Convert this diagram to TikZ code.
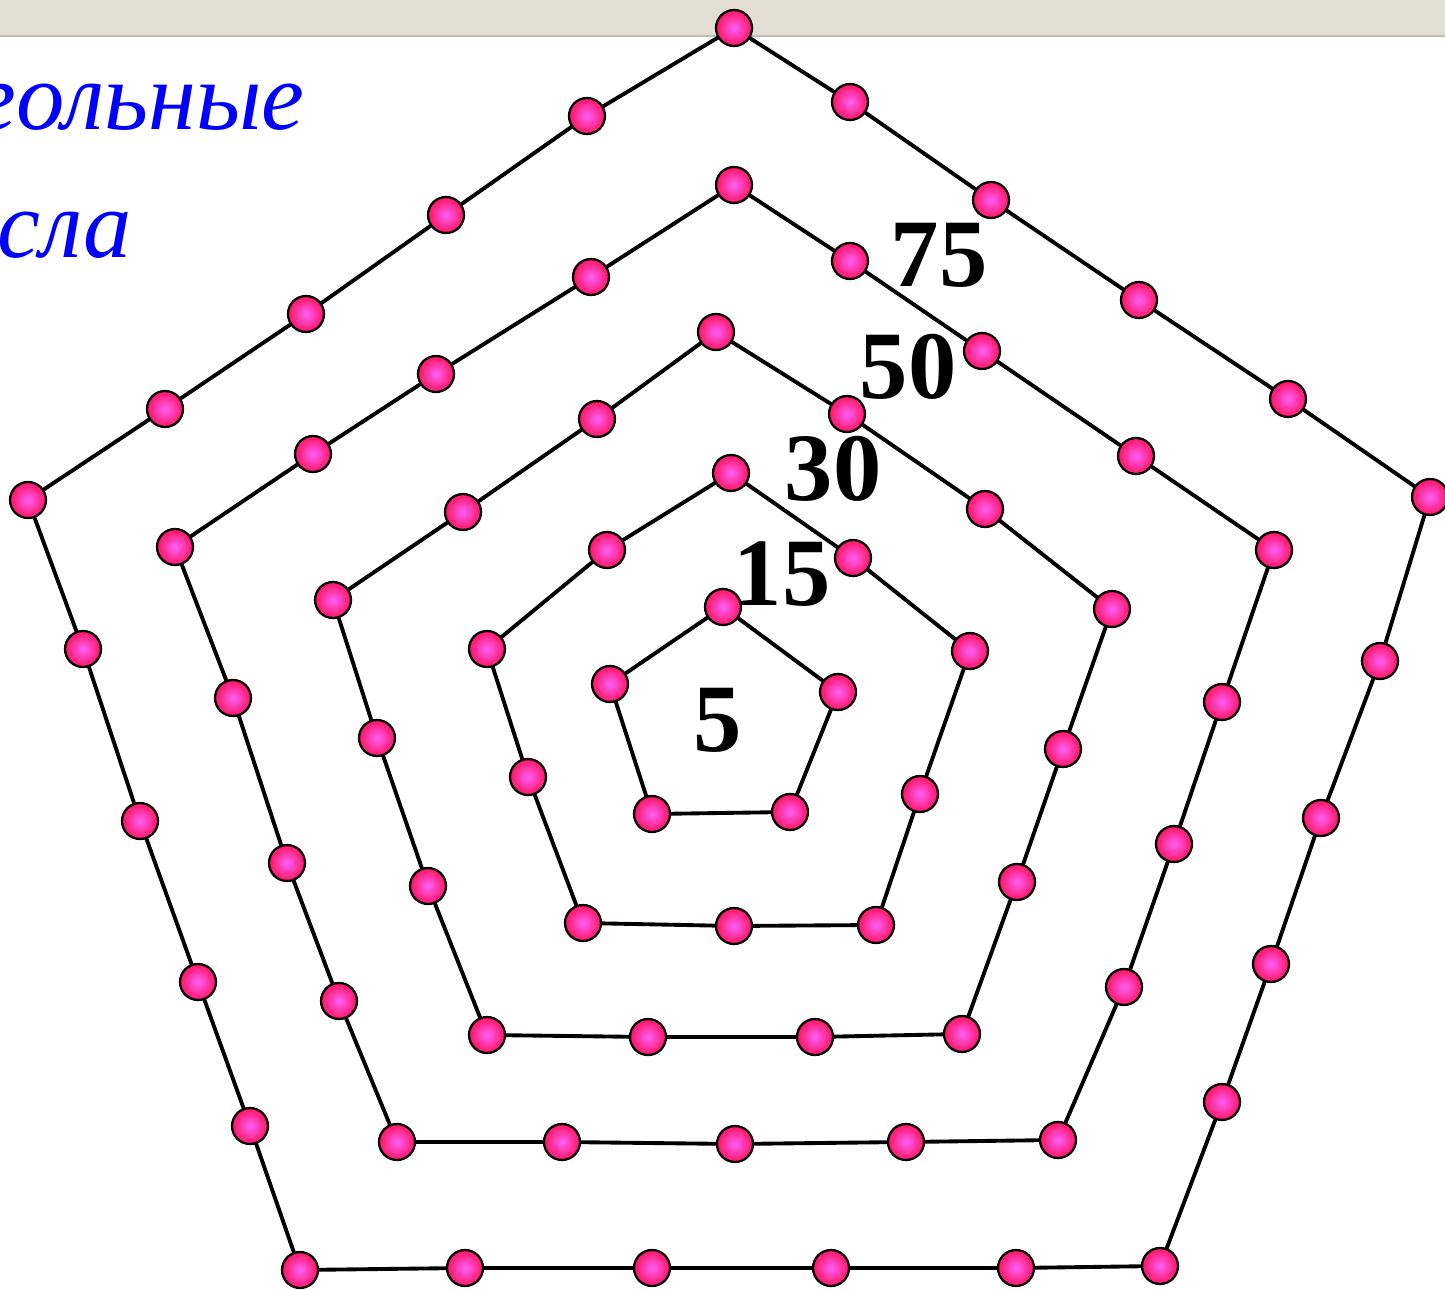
\documentclass[tikz,border=0pt]{standalone}
\usepackage{fontspec}
\setmainfont{Liberation Serif}
\definecolor{dotin}{RGB}{255,95,250}
\definecolor{dotout}{RGB}{255,20,95}
\definecolor{band}{RGB}{227,222,211}
\definecolor{bandline}{RGB}{190,186,180}
\definecolor{titleblue}{RGB}{0,0,255}
\pgfdeclarelayer{edges}
\pgfsetlayers{edges,main}
\newcommand\dt[3]{\node[dotnode] (#1) at (#2,#3) {};}
\tikzset{
  dotnode/.style={circle, draw=black, line width=1.3pt, minimum size=0.72cm, inner sep=0pt, inner color=dotin, outer color=dotout},
  edge/.style={line width=2.2pt, black},
  num/.style={font=\fontsize{55}{55}\selectfont\bfseries, inner sep=0pt},
  ttl/.style={font=\fontsize{55}{55}\selectfont\itshape, text=titleblue, inner sep=0pt}
}
\begin{document}
\begin{tikzpicture}[x=0.02cm, y=-0.02cm]
\useasboundingbox (0,0) rectangle (1445,1290);
\begin{pgfonlayer}{edges}
\fill[white] (0,0) rectangle (1445,1290);
\fill[band] (0,0) rectangle (1445,36);
\draw[bandline, line width=0.8pt] (0,36) -- (1445,36);
\end{pgfonlayer}
% ring 5
\dt{e1}{734}{28}\dt{e2}{850}{102}\dt{e3}{991}{200}\dt{e4}{1139}{300}\dt{e5}{1288}{399}
\dt{e6}{1430}{497}\dt{e7}{1380}{661}\dt{e8}{1321}{818}\dt{e9}{1271}{964}\dt{e10}{1222}{1102}
\dt{e11}{1160}{1266}\dt{e12}{1016}{1268}\dt{e13}{831}{1268}\dt{e14}{652}{1268}\dt{e15}{465}{1268}
\dt{e16}{300}{1270}\dt{e17}{250}{1126}\dt{e18}{198}{982}\dt{e19}{140}{821}\dt{e20}{83}{649}
\dt{e21}{28}{500}\dt{e22}{165}{409}\dt{e23}{306}{314}\dt{e24}{446}{215}\dt{e25}{587}{116}
% ring 4
\dt{d1}{734}{185}\dt{d2}{850}{261}\dt{d3}{982}{351}\dt{d4}{1136}{456}
\dt{d5}{1274}{550}\dt{d6}{1222}{702}\dt{d7}{1174}{844}\dt{d8}{1124}{987}
\dt{d9}{1058}{1140}\dt{d10}{906}{1142}\dt{d11}{735}{1144}\dt{d12}{562}{1142}
\dt{d13}{397}{1142}\dt{d14}{339}{1001}\dt{d15}{287}{863}\dt{d16}{233}{698}
\dt{d17}{175}{547}\dt{d18}{313}{454}\dt{d19}{436}{374}\dt{d20}{591}{277}
% ring 3
\dt{c1}{716}{332}\dt{c2}{847}{414}\dt{c3}{985}{509}
\dt{c4}{1112}{609}\dt{c5}{1063}{749}\dt{c6}{1017}{882}
\dt{c7}{962}{1034}\dt{c8}{815}{1037}\dt{c9}{648}{1037}
\dt{c10}{487}{1035}\dt{c11}{428}{886}\dt{c12}{377}{738}
\dt{c13}{333}{600}\dt{c14}{463}{512}\dt{c15}{597}{419}
% ring 2
\dt{b1}{731}{473}\dt{b2}{853}{558}\dt{b3}{970}{651}\dt{b4}{920}{794}\dt{b5}{876}{925}
\dt{b6}{734}{926}\dt{b7}{583}{923}\dt{b8}{528}{777}\dt{b9}{487}{649}\dt{b10}{607}{550}
% ring 1
\dt{a1}{723}{607}\dt{a2}{838}{692}\dt{a3}{790}{812}\dt{a4}{652}{814}\dt{a5}{610}{684}
\begin{pgfonlayer}{edges}
\foreach \r/\n in {a/5,b/10,c/15,d/20,e/25}{
  \foreach \i in {1,...,\n}{
    \pgfmathtruncatemacro\j{mod(\i,\n)+1}
    \draw[edge] (\r\i.center) -- (\r\j.center);
  }
}
\end{pgfonlayer}
% numbers
\node[num] (n75) at (939,255) {75};
\node[num] (n50) at (908,367) {50};
\node[num] (n30) at (833,469) {30};
\node[num] (n15) at (782,574) {15};
\node[num] (n5) at (718,720) {5};
% title (cut off at the left edge, as in the reference)
\node[ttl, anchor=base east] (t1) at (305,130) {Пятиугольные};
\node[ttl, anchor=base east] (t2) at (132,258) {числа};
\end{tikzpicture}
\end{document}
